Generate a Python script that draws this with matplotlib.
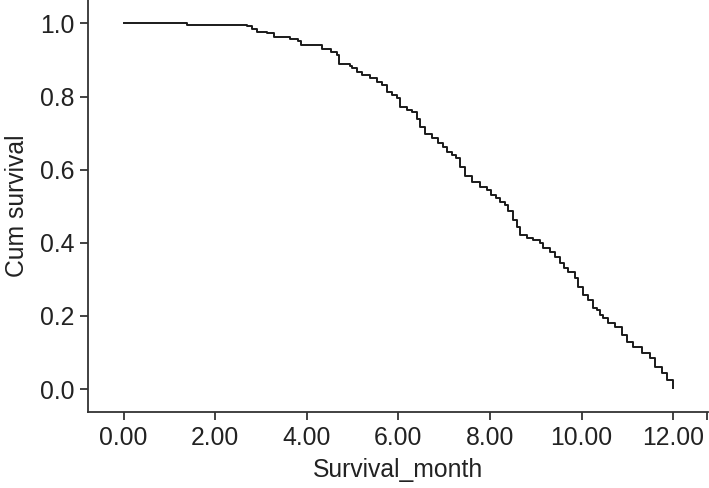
import matplotlib
matplotlib.use("Agg")
import matplotlib.pyplot as plt
from matplotlib.ticker import FixedLocator, FormatStrFormatter

plt.rcParams['font.family'] = ['Liberation Sans', 'DejaVu Sans']

# Kaplan-Meier step points (time in months, cumulative survival)
times = [0.00, 1.38, 2.69, 2.80, 2.91, 3.13, 3.28, 3.63, 3.81, 3.87, 4.33, 4.53, 4.66, 4.70,
         4.94, 4.98, 5.09, 5.20, 5.38, 5.53, 5.64, 5.75, 5.86, 5.97, 6.03, 6.19, 6.29, 6.40,
         6.47, 6.58, 6.73, 6.86, 6.97, 7.06, 7.17, 7.26, 7.34, 7.45, 7.60, 7.78, 7.93, 8.02,
         8.13, 8.22, 8.33, 8.39, 8.50, 8.59, 8.65, 8.81, 8.94, 9.09, 9.16, 9.31, 9.42, 9.53,
         9.61, 9.70, 9.85, 9.92, 10.03, 10.14, 10.25, 10.33, 10.40, 10.47, 10.57, 10.73,
         10.88, 10.99, 11.12, 11.32, 11.49, 11.60, 11.75, 11.86, 12.00]
survival = [1.000, 0.995, 0.992, 0.984, 0.976, 0.973, 0.962, 0.956, 0.951, 0.940, 0.931, 0.923,
            0.913, 0.890, 0.883, 0.878, 0.867, 0.859, 0.850, 0.839, 0.831, 0.812, 0.804, 0.796,
            0.771, 0.763, 0.757, 0.738, 0.716, 0.697, 0.686, 0.673, 0.662, 0.648, 0.640, 0.632,
            0.607, 0.582, 0.566, 0.552, 0.544, 0.530, 0.522, 0.511, 0.503, 0.487, 0.462, 0.443,
            0.421, 0.413, 0.407, 0.399, 0.386, 0.375, 0.361, 0.345, 0.331, 0.320, 0.304, 0.279,
            0.257, 0.243, 0.221, 0.216, 0.202, 0.194, 0.180, 0.170, 0.148, 0.129, 0.115, 0.098,
            0.085, 0.060, 0.044, 0.025, 0.003]

x_ticks = [0, 2, 4, 6, 8, 10, 12]
y_ticks = [0.0, 0.2, 0.4, 0.6, 0.8, 1.0]

fig = plt.figure(figsize=(7.09, 4.88), dpi=100)
ax = fig.add_axes([0.1245, 0.1564, 0.8741, 0.8436])

ax.step(times, survival, where='post', color='#1a1a1a', linewidth=1.4)

xmin, xmax = -0.773, 12.76
ax.set_xlim(xmin, xmax)
ax.set_ylim(-0.062, 1.064)

ax.xaxis.set_major_locator(FixedLocator(x_ticks))
ax.yaxis.set_major_locator(FixedLocator(y_ticks))
ax.xaxis.set_major_formatter(FormatStrFormatter('%.2f'))
ax.yaxis.set_major_formatter(FormatStrFormatter('%.1f'))
ax.xaxis.set_minor_locator(FixedLocator([xmax - 0.02]))

for s in ['top', 'right']:
    ax.spines[s].set_visible(False)
for s in ['left', 'bottom']:
    ax.spines[s].set_color('#333333')
    ax.spines[s].set_linewidth(1.3)

ax.tick_params(axis='both', which='both', direction='out', length=6, width=1.3,
               color='#333333', labelsize=17.8, labelcolor='#222222', pad=4)

ax.set_xlabel('Survival_month', fontsize=17.8, color='#222222', labelpad=6)
ax.set_ylabel('Cum survival', fontsize=17.8, color='#222222', labelpad=8)

fig.savefig('out.png', dpi=100)
